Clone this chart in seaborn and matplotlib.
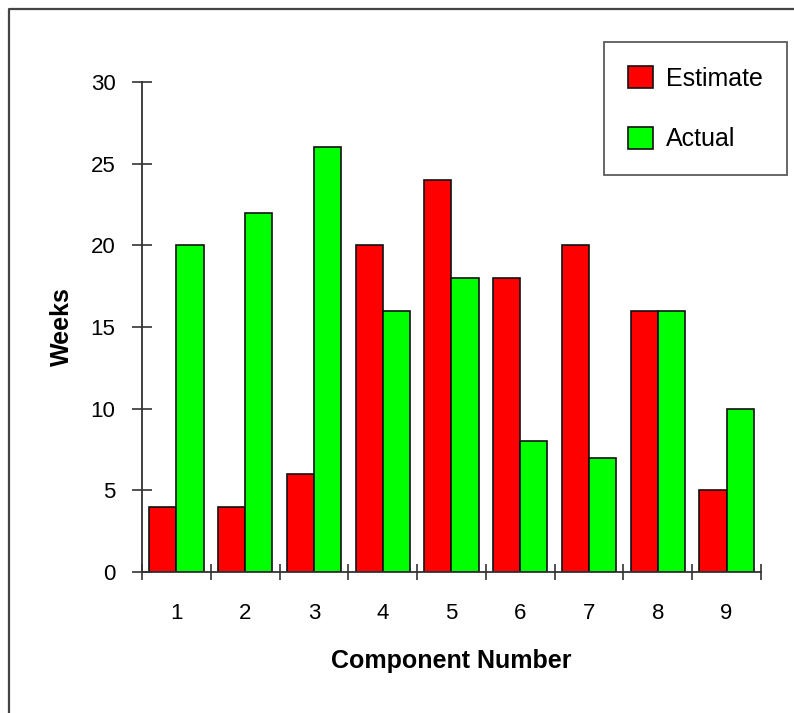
import matplotlib
matplotlib.use("Agg")
import matplotlib.pyplot as plt
from matplotlib.patches import Patch
from matplotlib.lines import Line2D
import seaborn as sns
import pandas as pd
import numpy as np

# Weeks per component: estimated vs. actual
components = ["1", "2", "3", "4", "5", "6", "7", "8", "9"]
estimate = [4, 4, 6, 20, 24, 18, 20, 16, 5]
actual = [20, 22, 26, 16, 18, 8, 7, 16, 10]
series_names = ["Estimate", "Actual"]
series_colors = ["#FF0000", "#00FF00"]
y_ticks = [0, 5, 10, 15, 20, 25, 30]

df = pd.DataFrame({
    "Component": components * 2,
    "Weeks": estimate + actual,
    "Series": [series_names[0]] * len(components) + [series_names[1]] * len(components),
})

sns.set_theme(style="white")
plt.rcParams["font.family"] = ["Liberation Sans", "DejaVu Sans"]
plt.rcParams["text.color"] = "black"
plt.rcParams["axes.labelcolor"] = "black"

W, H = 794, 713
fig = plt.figure(figsize=(W / 100, H / 100), dpi=100)
ax = fig.add_axes([142 / W, (H - 572) / H, (761 - 142) / W, (572 - 82) / H])

sns.barplot(
    data=df, x="Component", y="Weeks", hue="Series",
    order=components, hue_order=series_names,
    palette=series_colors, width=0.79, saturation=1,
    edgecolor="#111111", linewidth=1.2, legend=False, ax=ax,
)

ax.set_xlim(-0.5, len(components) - 0.5)
ax.set_ylim(0, 30)
ax.set_yticks(y_ticks)
ax.set_facecolor("white")

spine_color = "#333333"
for side in ("top", "right"):
    ax.spines[side].set_visible(False)
for side in ("left", "bottom"):
    ax.spines[side].set_color(spine_color)
    ax.spines[side].set_linewidth(1.3)

# x: labels centred on groups, tick marks between groups
ax.set_xticks(np.arange(len(components)))
ax.set_xticklabels(components)
ax.set_xticks(np.arange(len(components) + 1) - 0.5, minor=True)
ax.tick_params(axis="x", which="major", length=0, pad=22, labelsize=16, labelcolor="black")
ax.tick_params(axis="x", which="minor", direction="inout", length=12, width=1.2,
               color=spine_color, bottom=True)
ax.tick_params(axis="y", which="major", direction="inout", length=14, width=1.2,
               color=spine_color, pad=12, labelsize=16, labelcolor="black", left=True)

ax.set_xlabel("Component Number", fontsize=18, fontweight="bold", labelpad=18, color="black")
ax.set_ylabel("Weeks", fontsize=18, fontweight="bold", labelpad=12, color="black")

handles = [Patch(facecolor=c, edgecolor="#111111", linewidth=1.2) for c in series_colors]
leg = ax.legend(
    handles, series_names,
    loc="upper right", bbox_to_anchor=(787 / W, 1 - 42 / H), bbox_transform=fig.transFigure,
    fontsize=18, frameon=True, fancybox=False, shadow=False,
    handlelength=1.0, handleheight=1.0, labelspacing=1.44,
    borderpad=0.95, handletextpad=0.55, borderaxespad=0, labelcolor="black",
)
leg.get_frame().set_edgecolor("#333333")
leg.get_frame().set_linewidth(1.3)

# outer frame on the left and top edges
fig.add_artist(Line2D([9 / W, 9 / W, 1.0], [0.0, 1 - 9 / H, 1 - 9 / H],
                      transform=fig.transFigure, color="#444444", linewidth=1.6))

fig.savefig("out.png", dpi=100, facecolor="white")
